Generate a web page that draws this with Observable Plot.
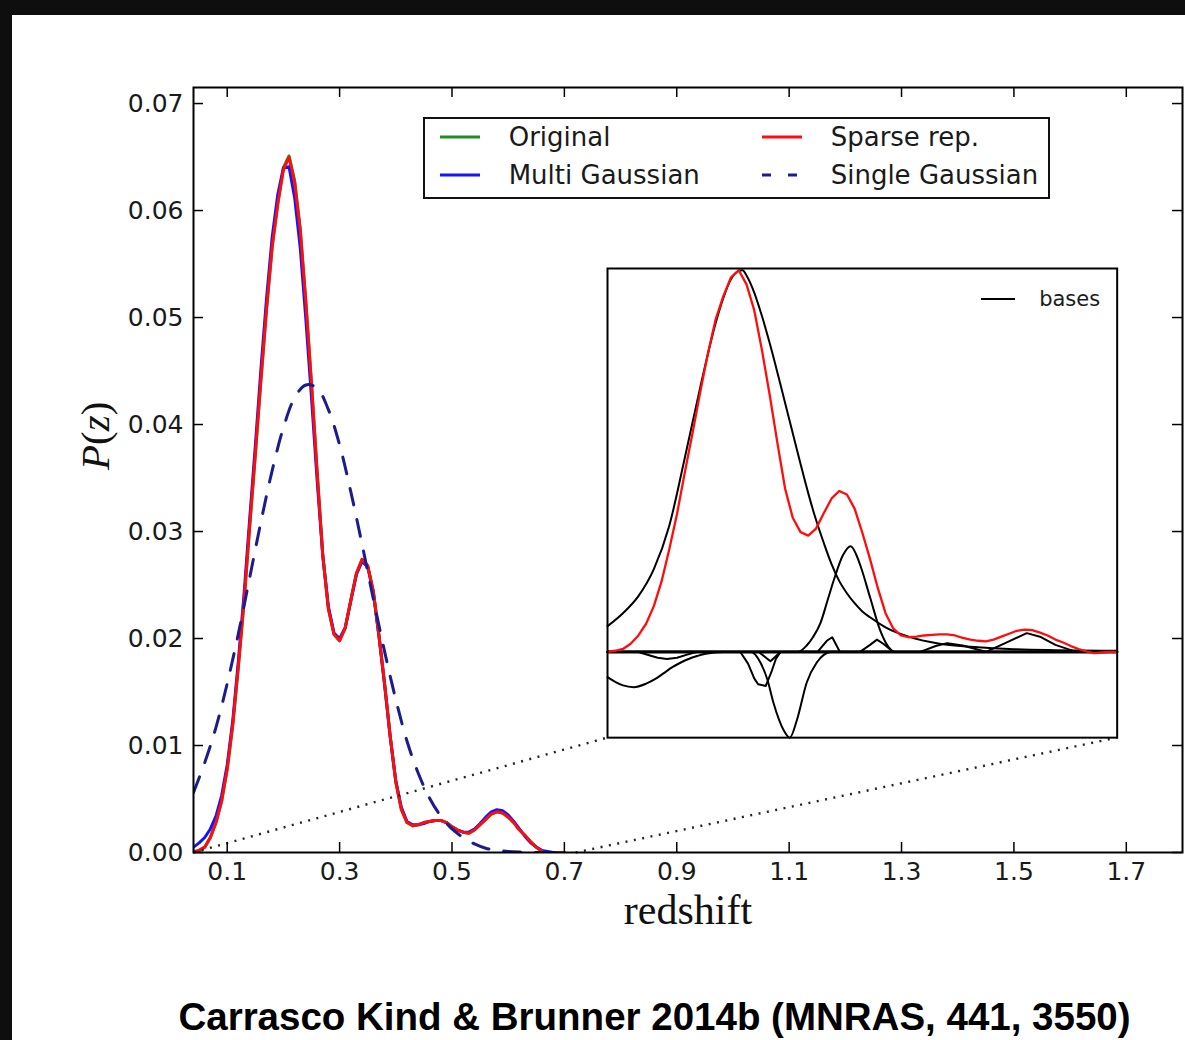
<!DOCTYPE html>
<html>
<head>
<meta charset="utf-8">
<script src="https://cdn.jsdelivr.net/npm/d3@7"></script>
<script src="https://cdn.jsdelivr.net/npm/@observablehq/plot@0.6"></script>
<style>
  html, body { margin: 0; padding: 0; background: #0e0e0e; width: 1185px; height: 1040px; overflow: hidden; }
  #panel { position: absolute; left: 12px; top: 15px; width: 1173px; height: 1025px; background: #ffffff; overflow: hidden; }
  .abs { position: absolute; }
  .legend { position: absolute; box-sizing: border-box; border: 2px solid #111; background: #fff; font-family: "DejaVu Sans", sans-serif; color: #1a1a1a; }
  .entry { position: absolute; white-space: nowrap; line-height: 1; }
  #title { position: absolute; white-space: nowrap; font-family: "Liberation Sans", Arial, sans-serif; font-weight: bold; font-size: 38.5px; line-height: 1; color: #000; transform: translateX(-50%); }
</style>
</head>
<body>
<div id="panel"></div>
<script>
// ---------------- data ----------------
const xTicks = [0.1, 0.3, 0.5, 0.7, 0.9, 1.1, 1.3, 1.5, 1.7];
const yTicks = [0.00, 0.01, 0.02, 0.03, 0.04, 0.05, 0.06, 0.07];

const zFine = [0.04,0.05,0.06,0.07,0.08,0.09,0.10,0.11,0.12,0.13,0.14,0.15,0.16,0.17,0.18,0.19,
  0.20,0.21,0.22,0.23,0.24,0.25,0.26,0.27,0.28,0.29,0.30,0.31,0.32,0.33,0.34,0.35,0.36,0.37,0.38,0.39,
  0.40,0.41,0.42,0.43,0.44,0.45,0.46,0.47,0.48,0.49,0.50,0.51,0.52,0.53,0.54,0.55,0.56,0.57,0.58,0.59,
  0.60,0.61,0.62,0.63,0.64,0.65,0.66,0.67,0.68,0.69,0.70];

const sparseRep = [0.0000,0.0002,0.0005,0.0014,0.0028,0.0048,0.0078,0.0120,0.0175,0.0235,0.0305,0.0372,0.0442,0.0508,0.0566,0.0606,
  0.0638,0.0650,0.0626,0.0582,0.0514,0.0438,0.0356,0.0278,0.0228,0.0204,0.0198,0.0210,0.0236,0.0261,0.0274,0.0268,0.0244,0.0203,0.0158,0.0109,
  0.0066,0.0040,0.0028,0.0025,0.0026,0.0028,0.0029,0.0030,0.0030,0.0028,0.0024,0.0021,0.0019,0.0018,0.0021,0.0026,0.0031,0.0036,0.0038,0.0037,
  0.0033,0.0028,0.0021,0.0016,0.0010,0.0005,0.0001,-0.0002,-0.0001,0.0000,0.0000];

const original = [0.0001,0.0002,0.0005,0.0014,0.0028,0.0048,0.0078,0.0120,0.0175,0.0235,0.0305,0.0372,0.0442,0.0508,0.0566,0.0607,
  0.0640,0.0651,0.0628,0.0582,0.0514,0.0438,0.0356,0.0278,0.0228,0.0204,0.0198,0.0210,0.0236,0.0261,0.0274,0.0268,0.0244,0.0203,0.0158,0.0109,
  0.0066,0.0040,0.0028,0.0025,0.0026,0.0028,0.0029,0.0030,0.0030,0.0028,0.0024,0.0021,0.0019,0.0018,0.0021,0.0026,0.0031,0.0036,0.0038,0.0037,
  0.0033,0.0028,0.0021,0.0016,0.0010,0.0005,0.0001,0.0000,0.0000,0.0000,0.0000];

const multiGauss = [0.0005,0.0009,0.0014,0.0022,0.0034,0.0053,0.0082,0.0124,0.0180,0.0242,0.0312,0.0380,0.0452,0.0518,0.0575,0.0615,
  0.0640,0.0641,0.0612,0.0565,0.0498,0.0425,0.0348,0.0278,0.0230,0.0205,0.0200,0.0210,0.0235,0.0260,0.0272,0.0267,0.0243,0.0202,0.0157,0.0108,
  0.0067,0.0042,0.0029,0.0026,0.0026,0.0027,0.0029,0.0030,0.0030,0.0028,0.0024,0.0021,0.0019,0.0019,0.0022,0.0027,0.0033,0.0038,0.0040,0.0039,
  0.0035,0.0029,0.0022,0.0015,0.0009,0.0005,0.0002,0.0001,0.0000,0.0000,0.0000];

const zCoarse = [0.04,0.06,0.08,0.10,0.12,0.14,0.16,0.18,0.20,0.22,0.24,0.26,0.28,0.30,0.32,0.34,0.36,
  0.38,0.40,0.42,0.44,0.46,0.48,0.50,0.52,0.54,0.56,0.58,0.60,0.62,0.64,0.66,0.68,0.70];
const singleGauss = [0.0056,0.0084,0.0117,0.0158,0.0205,0.0257,0.0309,0.0357,0.0397,0.0425,0.0437,0.0434,0.0414,0.0381,0.0337,0.0288,0.0237,
  0.0188,0.0143,0.0104,0.0074,0.0051,0.0034,0.0022,0.0014,0.0008,0.0004,0.0002,0.0001,0.00004,0,0,0,0];

// inset: sparse bases ([redshift, amplitude] pairs)
const basisMain = [[0.04,0.0044],[0.06,0.0066],[0.08,0.0095],[0.10,0.0141],[0.12,0.0215],[0.14,0.0330],[0.16,0.0450],[0.18,0.0560],
  [0.19,0.0603],[0.20,0.0635],[0.21,0.0649],[0.215,0.0650],[0.22,0.0641],[0.23,0.0612],[0.24,0.0572],[0.25,0.0526],[0.26,0.0476],
  [0.27,0.0424],[0.28,0.0372],[0.29,0.0320],[0.30,0.0270],[0.31,0.0225],[0.32,0.0186],[0.33,0.0150],[0.34,0.0121],[0.35,0.0100],
  [0.36,0.0083],[0.37,0.0069],[0.38,0.0059],[0.40,0.0042],[0.43,0.0026],[0.47,0.0014],[0.52,0.0008],[0.56,0.0005],[0.62,0.0003],[0.70,0.0002]];
const basisBump = [[0.04,0],[0.287,0],[0.298,0.0011],[0.306,0.0025],[0.316,0.0050],[0.325,0.0088],[0.333,0.0122],[0.345,0.0165],
  [0.355,0.0180],[0.362,0.0166],[0.368,0.0145],[0.380,0.0093],[0.393,0.0037],[0.402,0.0012],[0.412,0],[0.70,0]];
const basisSmall1 = [[0.04,0],[0.312,0],[0.324,0.0019],[0.331,0.0025],[0.341,0],[0.70,0]];
const basisSmall2 = [[0.04,0],[0.367,0],[0.380,0.0012],[0.389,0.0021],[0.398,0.0013],[0.41,0],[0.70,0]];
const basisSmall3 = [[0.04,0],[0.445,0],[0.465,0.0010],[0.48,0.0015],[0.50,0.0011],[0.531,0],[0.70,0]];
const basisSmall4 = [[0.04,0],[0.53,0],[0.555,0.0015],[0.583,0.0032],[0.60,0.0026],[0.62,0.0012],[0.645,0.0001],[0.70,0]];
const basisNeg1 = [[0.04,0],[0.08,0],[0.095,-0.0006],[0.105,-0.0010],[0.117,-0.0012],[0.13,-0.0010],[0.142,-0.0005],[0.155,0],[0.70,0]];
const basisNeg2 = [[0.04,-0.0043],[0.05,-0.0051],[0.06,-0.0057],[0.074,-0.0060],[0.09,-0.0054],[0.102,-0.0046],[0.113,-0.0036],
  [0.124,-0.0026],[0.135,-0.0018],[0.145,-0.0012],[0.156,-0.0007],[0.167,-0.0003],[0.19,0],[0.70,0]];
const basisNeg3 = [[0.04,0],[0.212,0],[0.222,-0.0020],[0.230,-0.0045],[0.235,-0.0055],[0.245,-0.0058],[0.252,-0.0035],[0.258,-0.0012],[0.264,0],[0.70,0]];
const basisNeg4 = [[0.04,0],[0.236,0],[0.251,-0.0016],[0.264,0],[0.70,0]];
const basisNeg5 = [[0.04,0],[0.226,0],[0.238,-0.0018],[0.247,-0.0047],[0.255,-0.0087],[0.268,-0.0133],[0.276,-0.0146],
  [0.2855,-0.0115],[0.298,-0.0052],[0.311,-0.0018],[0.320,-0.0005],[0.329,0],[0.70,0]];

// inset placement in main-axis data coordinates, and zoomed x/y ranges
const insetBox = {x1: 0.777, x2: 1.684, y1: 0.01075, y2: 0.0546};
const insetX = [0.04, 0.70];
const insetY = [-0.0146, 0.0653];
const connectorStart = [0.04, 0.72];

const seriesNames = ["Original", "Multi Gaussian", "Sparse rep.", "Single Gaussian"];
const colors = {"Original": "#1f8f1f", "Multi Gaussian": "#1414ff", "Sparse rep.": "#ff0d0d", "Single Gaussian": "#1c1c8f"};
const titleText = "Carrasco Kind & Brunner 2014b (MNRAS, 441, 3550)";

// ---------------- layout ----------------
const W = 1173, H = 940, mL = 181, mR = 3, mT = 72, mB = 103;
const FW = W - mL - mR, FH = H - mT - mB, tick = 10;

const rows = (zs, ps) => zs.map((z, i) => ({z, p: ps[i]}));
const pairRows = (list) => list.flatMap((b, k) => b.map(([z, p]) => ({z, p, id: k})));
const smoothBases = pairRows([basisMain, basisNeg2, basisNeg5, basisBump]);
const sharpBases = pairRows([basisSmall1, basisSmall2, basisSmall3, basisSmall4, basisNeg1, basisNeg3, basisNeg4]);

const connectors = [
  {x1: connectorStart[0], y1: 0, x2: insetBox.x1, y2: insetBox.y1},
  {x1: connectorStart[1], y1: 0, x2: insetBox.x2, y2: insetBox.y1}
];

const panel = document.getElementById("panel");

const main = Plot.plot({
  width: W, height: H, marginLeft: mL, marginRight: mR, marginTop: mT, marginBottom: mB,
  style: {fontFamily: "DejaVu Sans, sans-serif", fontSize: "25px", color: "#1a1a1a", background: "transparent", overflow: "visible"},
  x: {domain: [0.04, 1.8]},
  y: {domain: [0, 0.0715]},
  marks: [
    Plot.line(rows(zFine, original), {x: "z", y: "p", stroke: colors["Original"], strokeWidth: 3, clip: true}),
    Plot.line(rows(zFine, multiGauss), {x: "z", y: "p", stroke: colors["Multi Gaussian"], strokeWidth: 3, clip: true}),
    Plot.line(rows(zFine, sparseRep), {x: "z", y: "p", stroke: colors["Sparse rep."], strokeWidth: 3, clip: true}),
    Plot.line(rows(zCoarse, singleGauss), {x: "z", y: "p", stroke: colors["Single Gaussian"], strokeWidth: 3, strokeDasharray: "17,15", curve: "catmull-rom", clip: true}),
    Plot.link(connectors, {x1: "x1", y1: "y1", x2: "x2", y2: "y2", stroke: "#222", strokeWidth: 2.4, strokeDasharray: "2,6.5"}),
    Plot.ruleX(xTicks, {insetTop: FH - tick, stroke: "#000", strokeWidth: 1.5}),
    Plot.ruleX(xTicks, {insetBottom: FH - tick, stroke: "#000", strokeWidth: 1.5}),
    Plot.ruleY(yTicks, {insetRight: FW - tick, stroke: "#000", strokeWidth: 1.5}),
    Plot.ruleY(yTicks, {insetLeft: FW - tick, stroke: "#000", strokeWidth: 1.5}),
    Plot.frame({stroke: "#000", strokeWidth: 2}),
    Plot.axisX({ticks: xTicks, tickSize: 0, tickPadding: 10, tickFormat: d3.format(".1f"), label: null, fill: "#1a1a1a"}),
    Plot.axisY({ticks: yTicks, tickSize: 0, tickPadding: 10, tickFormat: d3.format(".2f"), label: null, fill: "#1a1a1a"}),
    Plot.text(["redshift"], {text: d => d, frameAnchor: "bottom", dy: 58, lineAnchor: "middle", fontFamily: "Liberation Serif, serif", fontSize: 42, fill: "#111"}),
    Plot.text(["P(z)"], {text: d => d, frameAnchor: "left", dx: -98, rotate: -90, lineAnchor: "middle", fontFamily: "Liberation Serif, serif", fontSize: 41, fill: "#111"})
  ]
});
main.style.position = "absolute";
main.style.left = "0px";
main.style.top = "0px";
panel.appendChild(main);

// italic P and z in the y label
main.querySelectorAll("text").forEach(t => {
  if (t.textContent === "P(z)") {
    t.innerHTML = '<tspan font-style="italic">P</tspan>(<tspan font-style="italic">z</tspan>)';
  }
});

// ---------------- inset ----------------
const sx = main.scale("x"), sy = main.scale("y");
const iL = sx.apply(insetBox.x1), iR = sx.apply(insetBox.x2);
const iT = sy.apply(insetBox.y2), iB = sy.apply(insetBox.y1);

const inset = Plot.plot({
  width: iR - iL, height: iB - iT, margin: 0,
  style: {background: "#fff", overflow: "visible"},
  x: {domain: insetX, axis: null},
  y: {domain: insetY, axis: null},
  marks: [
    Plot.line(smoothBases, {x: "z", y: "p", z: "id", stroke: "#000", strokeWidth: 2, curve: "monotone-x"}),
    Plot.line(sharpBases, {x: "z", y: "p", z: "id", stroke: "#000", strokeWidth: 2}),
    Plot.ruleY([0], {stroke: "#000", strokeWidth: 3.2}),
    Plot.line(rows(zFine, sparseRep), {x: "z", y: "p", stroke: colors["Sparse rep."], strokeWidth: 2.3}),
    Plot.frame({stroke: "#000", strokeWidth: 2})
  ]
});
inset.style.position = "absolute";
inset.style.left = iL + "px";
inset.style.top = iT + "px";
panel.appendChild(inset);

// inset legend ("bases")
const bl = document.createElement("div");
bl.className = "abs";
bl.style.left = (iL + 374) + "px";
bl.style.top = (iT + 19) + "px";
bl.style.fontFamily = "DejaVu Sans, sans-serif";
bl.style.fontSize = "21px";
bl.style.color = "#1a1a1a";
bl.style.whiteSpace = "nowrap";
bl.style.lineHeight = "24px";
bl.innerHTML = '<svg width="34" height="24" style="vertical-align:top"><line x1="0" x2="34" y1="12" y2="12" stroke="#000" stroke-width="2"/></svg>' +
  '<span style="margin-left:24px">bases</span>';
panel.appendChild(bl);

// ---------------- main legend ----------------
const lg = document.createElement("div");
lg.className = "legend";
lg.style.left = "410.7px";
lg.style.top = "101.7px";
lg.style.width = "627px";
lg.style.height = "82px";
panel.appendChild(lg);
const slots = [[15, 18.3], [15, 56.6], [337, 18.3], [337, 56.6]];
seriesNames.forEach((name, i) => {
  const [lx, cy] = slots[i];
  const dash = name === "Single Gaussian" ? 'stroke-dasharray="9,17"' : '';
  const e = document.createElement("div");
  e.className = "entry";
  e.style.left = lx + "px";
  e.style.top = (cy - 15) + "px";
  e.style.height = "30px";
  e.innerHTML = `<svg width="40" height="30" style="position:absolute;left:0;top:0"><line x1="0" x2="40" y1="15" y2="15" stroke="${colors[name]}" stroke-width="3" ${dash}/></svg>` +
    `<span style="position:absolute;left:69px;top:0;font-size:26px;line-height:30px">${name}</span>`;
  lg.appendChild(e);
});

// ---------------- caption ----------------
const tt = document.createElement("div");
tt.id = "title";
tt.textContent = titleText;
tt.style.left = "642.5px";
tt.style.top = "983px";
panel.appendChild(tt);
</script>
</body>
</html>
